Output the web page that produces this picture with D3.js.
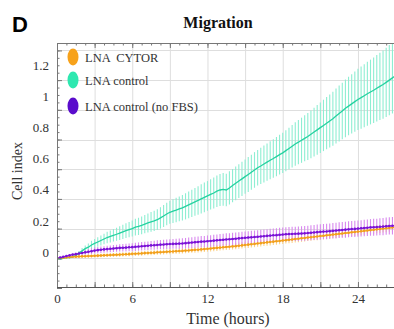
<!DOCTYPE html>
<html>
<head>
<meta charset="utf-8">
<script src="https://cdn.jsdelivr.net/npm/d3@7"></script>
<style>
  html, body { margin: 0; padding: 0; background: #fff; }
  svg { display: block; }
  text { font-family: "Liberation Serif", "DejaVu Serif", serif; fill: #333; }
</style>
</head>
<body>
<div id="chart"></div>
<script>
// sampling every 15 min (0.25 h)
const stepHours = 0.25;

const seriesNames = ["LNA  CYTOR", "LNA control", "LNA control (no FBS)"];
const xTicks = [0, 6, 12, 18, 24];
const yTicks = [0, 0.2, 0.4, 0.6, 0.8, 1, 1.2];

const controlMean = [
  0.00, -0.005, 0.00, 0.005,
  0.005, 0.01, 0.02, 0.035,
  0.05, 0.065, 0.075, 0.09,
  0.10, 0.11, 0.12, 0.13,
  0.14, 0.147, 0.155, 0.162,
  0.17, 0.178, 0.186, 0.193,
  0.20, 0.21, 0.215, 0.222,
  0.23, 0.238, 0.245, 0.252,
  0.26, 0.272, 0.285, 0.298,
  0.31, 0.318, 0.325, 0.333,
  0.34, 0.35, 0.36, 0.37,
  0.38, 0.39, 0.40, 0.41,
  0.42, 0.43, 0.44, 0.452,
  0.46, 0.464, 0.46, 0.474,
  0.49, 0.505, 0.52, 0.535,
  0.55, 0.565, 0.58, 0.595,
  0.61, 0.622, 0.635, 0.648,
  0.66, 0.672, 0.685, 0.698,
  0.71, 0.725, 0.74, 0.755,
  0.77, 0.782, 0.795, 0.808,
  0.82, 0.835, 0.85, 0.865,
  0.88, 0.895, 0.91, 0.925,
  0.94, 0.958, 0.975, 0.992,
  1.01, 1.025, 1.04, 1.055,
  1.07, 1.082, 1.095, 1.108,
  1.12, 1.132, 1.145, 1.158,
  1.17, 1.185, 1.20, 1.215,
  1.23
];
const controlSd = [
  0.005, 0.005, 0.005, 0.005,
  0.005, 0.008, 0.01, 0.015,
  0.02, 0.022, 0.025, 0.028,
  0.03, 0.032, 0.034, 0.036,
  0.038, 0.04, 0.042, 0.044,
  0.046, 0.048, 0.05, 0.052,
  0.054, 0.056, 0.058, 0.06,
  0.062, 0.064, 0.066, 0.068,
  0.07, 0.072, 0.074, 0.076,
  0.078, 0.08, 0.082, 0.084,
  0.086, 0.088, 0.09, 0.092,
  0.094, 0.096, 0.098, 0.10,
  0.10, 0.102, 0.104, 0.106,
  0.108, 0.11, 0.11, 0.112,
  0.112, 0.114, 0.114, 0.116,
  0.116, 0.118, 0.118, 0.12,
  0.12, 0.122, 0.124, 0.126,
  0.128, 0.13, 0.132, 0.134,
  0.136, 0.138, 0.14, 0.143,
  0.146, 0.149, 0.152, 0.155,
  0.158, 0.161, 0.164, 0.167,
  0.17, 0.173, 0.176, 0.179,
  0.182, 0.185, 0.188, 0.191,
  0.194, 0.197, 0.20, 0.203,
  0.206, 0.209, 0.212, 0.215,
  0.218, 0.221, 0.224, 0.227,
  0.23, 0.233, 0.236, 0.239,
  0.242
];
const noFbsMean = [
  0.00, 0.005, 0.01, 0.015,
  0.02, 0.025, 0.028, 0.032,
  0.036, 0.04, 0.044, 0.048,
  0.052, 0.055, 0.058, 0.06,
  0.062, 0.064, 0.066, 0.068,
  0.07, 0.071, 0.072, 0.074,
  0.075, 0.077, 0.079, 0.081,
  0.083, 0.085, 0.087, 0.088,
  0.09, 0.092, 0.093, 0.095,
  0.096, 0.097, 0.098, 0.099,
  0.10, 0.102, 0.104, 0.106,
  0.108, 0.11, 0.112, 0.113,
  0.115, 0.117, 0.119, 0.121,
  0.123, 0.125, 0.127, 0.128,
  0.13, 0.132, 0.134, 0.136,
  0.138, 0.14, 0.141, 0.143,
  0.145, 0.147, 0.149, 0.151,
  0.153, 0.155, 0.156, 0.158,
  0.16, 0.162, 0.163, 0.164,
  0.165, 0.166, 0.167, 0.168,
  0.17, 0.172, 0.174, 0.176,
  0.178, 0.18, 0.181, 0.183,
  0.185, 0.187, 0.189, 0.191,
  0.193, 0.195, 0.197, 0.198,
  0.20, 0.202, 0.204, 0.206,
  0.208, 0.209, 0.21, 0.212,
  0.214, 0.216, 0.218, 0.219,
  0.22
];
const noFbsSd = [
  0.005, 0.005, 0.005, 0.005,
  0.006, 0.008, 0.01, 0.012,
  0.014, 0.016, 0.018, 0.02,
  0.02, 0.021, 0.022, 0.022,
  0.023, 0.023, 0.024, 0.024,
  0.025, 0.025, 0.026, 0.026,
  0.027, 0.027, 0.028, 0.028,
  0.029, 0.029, 0.03, 0.03,
  0.031, 0.031, 0.032, 0.032,
  0.033, 0.033, 0.034, 0.034,
  0.035, 0.035, 0.036, 0.036,
  0.037, 0.037, 0.038, 0.038,
  0.039, 0.039, 0.04, 0.04,
  0.04, 0.041, 0.041, 0.041,
  0.042, 0.042, 0.042, 0.043,
  0.043, 0.043, 0.044, 0.044,
  0.044, 0.045, 0.045, 0.045,
  0.046, 0.046, 0.046, 0.047,
  0.047, 0.047, 0.048, 0.048,
  0.048, 0.049, 0.049, 0.049,
  0.05, 0.05, 0.05, 0.051,
  0.051, 0.051, 0.052, 0.052,
  0.052, 0.053, 0.053, 0.053,
  0.054, 0.054, 0.054, 0.055,
  0.055, 0.055, 0.056, 0.056,
  0.056, 0.057, 0.057, 0.057,
  0.058, 0.058, 0.058, 0.059,
  0.059
];
const cytorMean = [
  0.00, 0.002, 0.004, 0.006,
  0.008, 0.01, 0.011, 0.012,
  0.013, 0.014, 0.015, 0.016,
  0.017, 0.018, 0.019, 0.02,
  0.021, 0.022, 0.023, 0.024,
  0.025, 0.026, 0.027, 0.028,
  0.03, 0.031, 0.032, 0.033,
  0.035, 0.036, 0.037, 0.038,
  0.04, 0.041, 0.042, 0.044,
  0.045, 0.046, 0.048, 0.049,
  0.05, 0.052, 0.053, 0.055,
  0.057, 0.058, 0.06, 0.062,
  0.064, 0.066, 0.068, 0.07,
  0.072, 0.074, 0.076, 0.078,
  0.08, 0.082, 0.085, 0.087,
  0.09, 0.092, 0.095, 0.097,
  0.10, 0.102, 0.105, 0.107,
  0.11, 0.112, 0.115, 0.117,
  0.12, 0.122, 0.125, 0.127,
  0.13, 0.132, 0.135, 0.137,
  0.14, 0.142, 0.145, 0.147,
  0.15, 0.152, 0.155, 0.157,
  0.16, 0.162, 0.165, 0.167,
  0.17, 0.172, 0.175, 0.177,
  0.18, 0.182, 0.185, 0.187,
  0.19, 0.192, 0.195, 0.197,
  0.20, 0.202, 0.205, 0.207,
  0.21
];
const cytorSd = [
  0.004, 0.004, 0.004, 0.004,
  0.005, 0.006, 0.007, 0.008,
  0.009, 0.01, 0.01, 0.011,
  0.011, 0.012, 0.012, 0.012,
  0.013, 0.013, 0.013, 0.013,
  0.014, 0.014, 0.014, 0.014,
  0.015, 0.015, 0.015, 0.015,
  0.015, 0.016, 0.016, 0.016,
  0.016, 0.016, 0.017, 0.017,
  0.017, 0.017, 0.017, 0.018,
  0.018, 0.018, 0.018, 0.018,
  0.019, 0.019, 0.019, 0.019,
  0.019, 0.02, 0.02, 0.02,
  0.02, 0.02, 0.02, 0.021,
  0.021, 0.021, 0.021, 0.021,
  0.021, 0.022, 0.022, 0.022,
  0.022, 0.022, 0.022, 0.022,
  0.023, 0.023, 0.023, 0.023,
  0.023, 0.023, 0.023, 0.024,
  0.024, 0.024, 0.024, 0.024,
  0.024, 0.024, 0.024, 0.025,
  0.025, 0.025, 0.025, 0.025,
  0.025, 0.025, 0.025, 0.025,
  0.026, 0.026, 0.026, 0.026,
  0.026, 0.026, 0.026, 0.026,
  0.026, 0.027, 0.027, 0.027,
  0.027, 0.027, 0.027, 0.027,
  0.027
];

const W = 394, H = 329;
const margin = { top: 43, left: 57, bottom: 287 };

const svg = d3.select("#chart").append("svg")
  .attr("width", W)
  .attr("height", H);

const x = d3.scaleLinear().domain([0, 28]).range([margin.left, margin.left + 28 * 12.54]);
const y = d3.scaleLinear().domain([-0.2, 1.45]).range([288, 43]);
// the printed tick labels sit a little off the grid in the original figure
const yLabel = d3.scaleLinear().domain([0, 1.2]).range([252, 65]);

svg.append("defs").append("clipPath").attr("id", "plotclip")
  .append("rect")
  .attr("x", margin.left).attr("y", margin.top)
  .attr("width", W - margin.left).attr("height", margin.bottom - margin.top);

// grid
const grid = svg.append("g").attr("stroke", "#dedede").attr("stroke-width", 1);
grid.selectAll("line.v")
  .data(d3.range(3, 28, 3))
  .enter().append("line")
  .attr("x1", d => x(d) + 0.5).attr("x2", d => x(d) + 0.5)
  .attr("y1", margin.top).attr("y2", margin.bottom);
grid.selectAll("line.h")
  .data(d3.range(0, 1.41, 0.2))
  .enter().append("line")
  .attr("x1", margin.left).attr("x2", W)
  .attr("y1", d => Math.round(y(d)) + 0.5).attr("y2", d => Math.round(y(d)) + 0.5);

// series
const series = [
  { name: seriesNames[0], mean: cytorMean, sd: cytorSd, line: "#f2a01c", bar: "#fcd38a", dot: true },
  { name: seriesNames[1], mean: controlMean, sd: controlSd, line: "#25d2a0", bar: "#8eeed2", dot: false },
  { name: seriesNames[2], mean: noFbsMean, sd: noFbsSd, line: "#7a12d6", bar: "#d889ee", dot: true }
];
const drawOrder = [1, 0, 2];

const plot = svg.append("g").attr("clip-path", "url(#plotclip)");

drawOrder.forEach(i => {
  const s = series[i];
  plot.append("g")
    .selectAll("line")
    .data(s.mean.map((m, k) => ({ t: k * stepHours, m: m, sd: s.sd[k] })))
    .enter().append("line")
    .attr("x1", d => x(d.t)).attr("x2", d => x(d.t))
    .attr("y1", d => y(d.m - d.sd)).attr("y2", d => y(d.m + d.sd))
    .attr("stroke", s.bar)
    .attr("stroke-width", 1.1);
});

const line = d3.line().x((d, k) => x(k * stepHours)).y(d => y(d));
drawOrder.forEach(i => {
  const s = series[i];
  plot.append("path")
    .datum(s.mean)
    .attr("d", line)
    .attr("fill", "none")
    .attr("stroke", s.line)
    .attr("stroke-width", 1.3);
  if (s.dot) {
    plot.append("g").selectAll("circle")
      .data(s.mean)
      .enter().append("circle")
      .attr("cx", (d, k) => x(k * stepHours))
      .attr("cy", d => y(d))
      .attr("r", 1.3)
      .attr("fill", s.line);
  }
});

// frame + ticks
const axisColor = "#777";
svg.append("line")
  .attr("x1", margin.left + 0.5).attr("x2", margin.left + 0.5)
  .attr("y1", margin.top).attr("y2", margin.bottom)
  .attr("stroke", axisColor);
svg.append("line")
  .attr("x1", margin.left).attr("x2", W)
  .attr("y1", margin.top + 0.5).attr("y2", margin.top + 0.5)
  .attr("stroke", axisColor);
svg.append("line")
  .attr("x1", margin.left).attr("x2", W)
  .attr("y1", margin.bottom + 0.5).attr("y2", margin.bottom + 0.5)
  .attr("stroke", "#555").attr("stroke-width", 1.2);

const noLabel = () => "";
function tickAxis(axis, tickVals, size) {
  return axis.tickValues(tickVals).tickSize(size).tickFormat(noLabel);
}
const xMinor = d3.range(0, 28.01, 0.75);
const xMajor = d3.range(0, 28, 3);
const yMinor = d3.range(-0.2, 1.451, 0.05);
const yMajor = d3.range(-0.2, 1.41, 0.2);

function styleTicks(g) {
  g.select(".domain").remove();
  g.selectAll("line").attr("stroke", axisColor);
  g.selectAll("text").remove();
}
svg.append("g").attr("transform", `translate(0,${margin.bottom})`)
  .call(tickAxis(d3.axisTop(x), xMinor, 2.5)).call(styleTicks);
svg.append("g").attr("transform", `translate(0,${margin.bottom})`)
  .call(tickAxis(d3.axisTop(x), xMajor, 5)).call(styleTicks);
svg.append("g").attr("transform", `translate(0,${margin.top})`)
  .call(tickAxis(d3.axisBottom(x), xMinor, 2.5)).call(styleTicks);
svg.append("g").attr("transform", `translate(0,${margin.top})`)
  .call(tickAxis(d3.axisBottom(x), xMajor, 5)).call(styleTicks);
svg.append("g").attr("transform", `translate(${margin.left},0)`)
  .call(tickAxis(d3.axisRight(y), yMinor, 2.5)).call(styleTicks);
svg.append("g").attr("transform", `translate(${margin.left},0)`)
  .call(tickAxis(d3.axisRight(y), yMajor, 5)).call(styleTicks);

// tick labels
const xLabels = svg.append("g").attr("transform", "translate(0,294)")
  .call(d3.axisBottom(x).tickValues(xTicks).tickSize(0).tickPadding(0).tickFormat(d3.format("d")));
xLabels.select(".domain").remove();
xLabels.selectAll("text")
  .attr("font-family", "Liberation Serif, serif")
  .attr("font-size", 13).attr("fill", "#333");

const yLabels = svg.append("g").attr("transform", "translate(49,0)")
  .call(d3.axisLeft(yLabel).tickValues(yTicks).tickSize(0).tickPadding(0).tickFormat(d => String(d)));
yLabels.select(".domain").remove();
yLabels.selectAll("text")
  .attr("font-family", "Liberation Serif, serif")
  .attr("font-size", 13).attr("fill", "#333");

// titles
svg.append("text")
  .attr("x", 218).attr("y", 28)
  .attr("text-anchor", "middle")
  .attr("font-size", 16).attr("font-weight", "bold")
  .style("fill", "#111")
  .text("Migration");

svg.append("text")
  .attr("x", 12).attr("y", 32)
  .style("font-family", "'Liberation Sans', Arial, sans-serif")
  .attr("font-size", 22).attr("font-weight", "bold")
  .style("fill", "#000")
  .text("D");

svg.append("text")
  .attr("x", 228).attr("y", 324)
  .attr("text-anchor", "middle")
  .attr("font-size", 16)
  .text("Time (hours)");

svg.append("text")
  .attr("transform", "translate(22,171) rotate(-90)")
  .attr("text-anchor", "middle")
  .attr("font-size", 14)
  .text("Cell index");

// legend
const legendColors = ["#f7a21b", "#2ee8b0", "#5a0ccc"];
const legendY = [57, 80, 106];
const legend = svg.append("g");
seriesNames.forEach((name, i) => {
  legend.append("ellipse")
    .attr("cx", 73).attr("cy", legendY[i])
    .attr("rx", 5.5).attr("ry", 8.5)
    .attr("fill", legendColors[i]);
  legend.append("text")
    .attr("x", 85).attr("y", legendY[i] + 5)
    .attr("font-size", 12.5)
    .style("white-space", "pre")
    .attr("xml:space", "preserve")
    .text(name);
});
</script>
</body>
</html>
